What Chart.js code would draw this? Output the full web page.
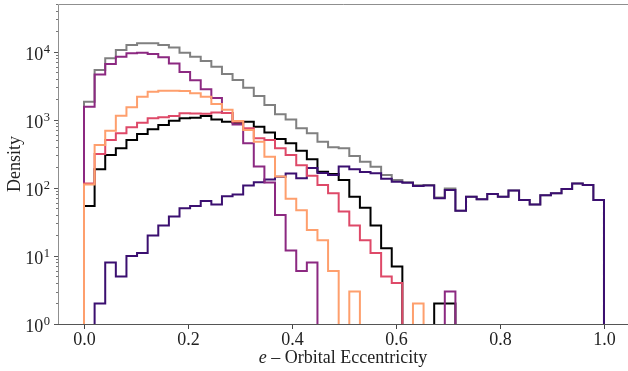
<!DOCTYPE html>
<html>
<head>
<meta charset="utf-8">
<script src="https://cdn.jsdelivr.net/npm/chart.js@4.4.1/dist/chart.umd.min.js"></script>
<style>
  html, body { margin: 0; padding: 0; background: #ffffff; }
  #wrap { width: 628px; height: 371px; }
</style>
</head>
<body>
<div id="wrap"><canvas id="c" width="628" height="371"></canvas></div>
<script>
// Histogram bin edges: 49 equal bins over [0, 1]
const binEdges = Array.from({ length: 50 }, (_, k) => k / 49);

// Counts per bin for each population
const countsGray = [1840, 5370, 7980, 10550, 12500, 13250, 13250, 12500, 11500, 9640,
  8420, 7300, 6000, 4690, 3830, 2950, 2230, 1640, 1200, 1010,
  747, 631, 475, 393, 380, 293, 242, 204, 154, 130,
  121, 109, 110, 72, 98, 46, 74, 68, 81, 74,
  91, 66, 57, 78, 83, 96, 116, 110, 66];
const countsBlack = [54, 187, 303, 380, 504, 617, 722, 836, 967, 1050,
  1070, 1130, 1010, 935, 900, 935, 790, 650, 520, 450,
  350, 262, 172, 160, 130, 74, 51, 28, 13, 7,
  0, 0, 0, 2, 2, 0, 0, 0, 0, 0,
  0, 0, 0, 0, 0, 0, 0, 0, 0];
const countsIndigo = [0, 2, 8, 5, 10, 11, 20, 28, 38, 50,
  54, 64, 57, 75, 80, 108, 121, 132, 145, 162,
  138, 195, 165, 154, 205, 187, 170, 163, 136, 123,
  119, 106, 108, 70, 93, 46, 74, 68, 81, 74,
  91, 66, 57, 78, 83, 96, 116, 110, 66];
const countsPurple = [1550, 4600, 6580, 8420, 9440, 9640, 9230, 8240, 6700, 5000,
  3800, 2800, 2080, 1250, 850, 450, 205, 120, 40, 12,
  6, 8, 0, 0, 0, 0, 0, 0, 0, 0,
  0, 0, 0, 0, 3, 0, 0, 0, 0, 0,
  0, 0, 0, 0, 0, 0, 0, 0, 0];
const countsRose = [116, 313, 504, 631, 773, 904, 1050, 1085, 1130, 1240,
  1230, 1220, 1280, 1250, 935, 750, 533, 504, 380, 303,
  215, 150, 110, 83, 45, 28, 17, 11, 5, 4,
  0, 0, 0, 0, 0, 0, 0, 0, 0, 0,
  0, 0, 0, 0, 0, 0, 0, 0, 0];
const countsPeach = [112, 425, 690, 1145, 1520, 2180, 2580, 2670, 2670, 2640,
  2440, 2180, 1700, 1400, 960, 706, 475, 286, 146, 69,
  47, 24, 17, 6, 0, 3, 0, 0, 0, 0,
  0, 2, 0, 0, 0, 0, 0, 0, 0, 0,
  0, 0, 0, 0, 0, 0, 0, 0, 0];

// Axis ticks
const xTickValues = [0, 0.2, 0.4, 0.6, 0.8, 1.0];
const xTickLabels = ['0.0', '0.2', '0.4', '0.6', '0.8', '1.0'];
const yTickExponents = [0, 1, 2, 3, 4];

const Y_MIN = 1, Y_MAX = 50000;
// empty bins sit below the visible range so their outline is clipped away
const EMPTY_LEVEL = 0.05;
const SERIF = '"Liberation Serif", "DejaVu Serif", serif';

// Turn bin counts into an outline path: up from the floor, across every bin, back down.
function stepOutline(counts) {
  const level = v => (v > 0 ? v : EMPTY_LEVEL);
  const pts = [{ x: binEdges[0], y: EMPTY_LEVEL }];
  counts.forEach((v, i) => pts.push({ x: binEdges[i], y: level(v) }));
  pts.push({ x: binEdges[binEdges.length - 1], y: EMPTY_LEVEL });
  return pts;
}

function series(counts, color, order) {
  return {
    data: stepOutline(counts),
    borderColor: color,
    borderWidth: 2,
    stepped: 'before',
    pointRadius: 0,
    fill: false,
    tension: 0,
    order: order
  };
}

// Axes frame, ticks and labels
const axesDecor = {
  id: 'axesDecor',
  afterDatasetsDraw(chart) {
    const { ctx, chartArea: a, scales: { x, y } } = chart;
    ctx.save();
    ctx.lineWidth = 1;

    // frame
    ctx.strokeStyle = '#8f8f8f';
    ctx.beginPath();
    ctx.moveTo(a.left + 0.5, a.bottom);
    ctx.lineTo(a.left + 0.5, a.top + 0.5);
    ctx.lineTo(a.right, a.top + 0.5);
    ctx.stroke();
    ctx.strokeStyle = '#555555';
    ctx.beginPath();
    ctx.moveTo(a.left, a.bottom + 0.5);
    ctx.lineTo(a.right, a.bottom + 0.5);
    ctx.stroke();

    // x ticks and labels
    ctx.fillStyle = '#222222';
    ctx.font = '18px ' + SERIF;
    ctx.textAlign = 'center';
    ctx.textBaseline = 'alphabetic';
    xTickValues.forEach((v, i) => {
      const px = Math.round(x.getPixelForValue(v)) + 0.5;
      ctx.strokeStyle = '#444444';
      ctx.beginPath();
      ctx.moveTo(px, a.bottom + 1);
      ctx.lineTo(px, a.bottom + 5);
      ctx.stroke();
      ctx.fillText(xTickLabels[i], px, a.bottom + 21);
    });

    // y minor ticks
    ctx.strokeStyle = '#777777';
    for (let e = 0; e <= 4; e++) {
      for (let m = 2; m <= 9; m++) {
        const v = m * Math.pow(10, e);
        if (v > Y_MAX) continue;
        const py = Math.round(y.getPixelForValue(v)) + 0.5;
        ctx.beginPath();
        ctx.moveTo(a.left - 2, py);
        ctx.lineTo(a.left, py);
        ctx.stroke();
      }
    }

    // y major ticks and power-of-ten labels
    yTickExponents.forEach(e => {
      const py = Math.round(y.getPixelForValue(Math.pow(10, e))) + 0.5;
      ctx.strokeStyle = '#555555';
      ctx.beginPath();
      ctx.moveTo(a.left - 4, py);
      ctx.lineTo(a.left, py);
      ctx.stroke();
      const right = a.left - 8;
      ctx.textAlign = 'left';
      ctx.font = '12.5px ' + SERIF;
      const expStr = String(e);
      const ew = ctx.measureText(expStr).width;
      ctx.fillText(expStr, right - ew, py + 0.5);
      ctx.font = '18px ' + SERIF;
      ctx.textAlign = 'right';
      ctx.fillText('10', right - ew - 0.5, py + 7.5);
    });

    // axis titles
    ctx.fillStyle = '#222222';
    ctx.font = '18px ' + SERIF;
    ctx.save();
    ctx.translate(20, 164);
    ctx.rotate(-Math.PI / 2);
    ctx.textAlign = 'center';
    ctx.fillText('Density', 0, 0);
    ctx.restore();

    const cx = (a.left + a.right) / 2;
    const italic = 'italic 18px ' + SERIF;
    const upright = '18px ' + SERIF;
    const rest = ' \u2013 Orbital Eccentricity';
    ctx.font = italic;
    const w1 = ctx.measureText('e').width;
    ctx.font = upright;
    const w2 = ctx.measureText(rest).width;
    let sx = cx - (w1 + w2) / 2;
    ctx.textAlign = 'left';
    ctx.font = italic;
    ctx.fillText('e', sx, 363);
    ctx.font = upright;
    ctx.fillText(rest, sx + w1, 363);

    ctx.restore();
  }
};

new Chart(document.getElementById('c'), {
  type: 'line',
  data: {
    datasets: [
      series(countsGray, '#808080', 6),
      series(countsBlack, '#000000', 5),
      series(countsIndigo, '#3b0f70', 4),
      series(countsPurple, '#8c2981', 3),
      series(countsRose, '#de4968', 2),
      series(countsPeach, '#fe9f6d', 1)
    ]
  },
  options: {
    responsive: false,
    animation: false,
    devicePixelRatio: 1,
    layout: { padding: { left: 0, right: 0, top: 4, bottom: 0 } },
    plugins: { legend: { display: false }, tooltip: { enabled: false } },
    scales: {
      x: {
        type: 'linear',
        min: -0.05,
        max: 1.0462,
        grid: { display: false },
        border: { display: false },
        ticks: { display: false },
        afterFit: s => { s.height = 47; }
      },
      y: {
        type: 'logarithmic',
        min: Y_MIN,
        max: Y_MAX,
        grid: { display: false },
        border: { display: false },
        ticks: { display: false },
        afterFit: s => { s.width = 58; }
      }
    }
  },
  plugins: [axesDecor]
});
</script>
</body>
</html>
